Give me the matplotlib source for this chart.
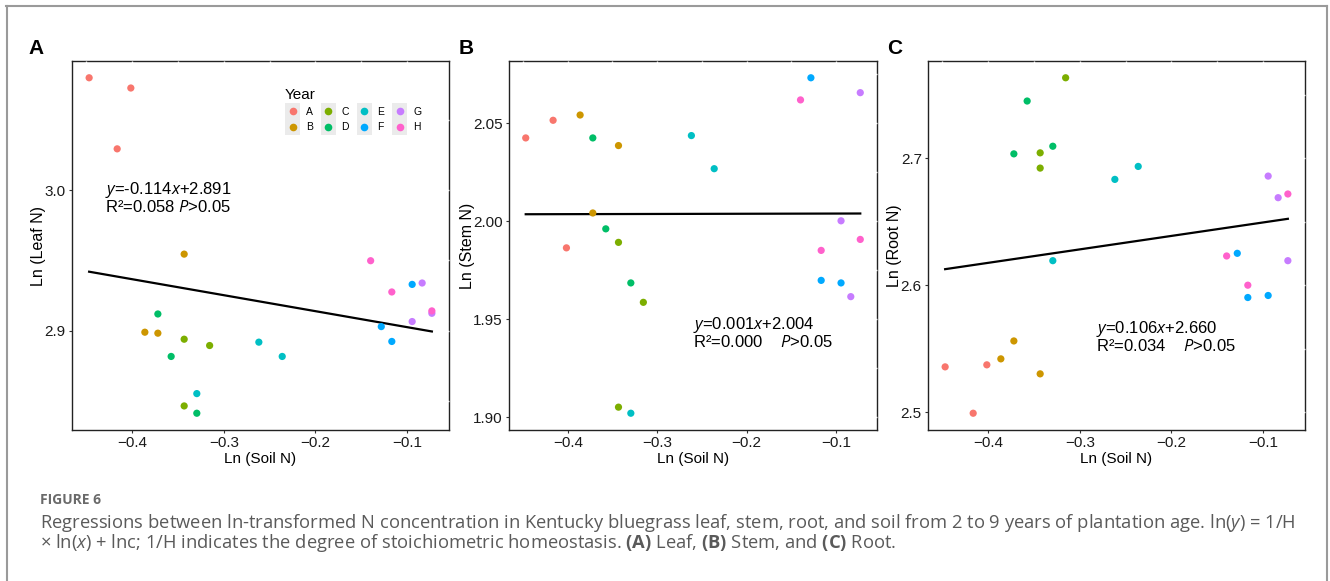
import numpy as np
import matplotlib
matplotlib.use("Agg")
import matplotlib.pyplot as plt
from matplotlib.lines import Line2D
from matplotlib.patches import Rectangle
from matplotlib.legend_handler import HandlerBase
from matplotlib.ticker import AutoMinorLocator

# ---------------- data ----------------
years = ["A", "B", "C", "D", "E", "F", "G", "H"]
colors = ["#F8766D", "#CD9600", "#7CAE00", "#00BE67",
          "#00BFC4", "#00A9FF", "#C77CFF", "#FF61CC"]

point_year = ["A"] * 3 + ["B"] * 3 + ["C"] * 3 + ["D"] * 3 + \
             ["E"] * 3 + ["F"] * 3 + ["G"] * 3 + ["H"] * 3

soil_n = [-0.447, -0.4164, -0.4015,
          -0.3862, -0.3433, -0.372,
          -0.3433, -0.3433, -0.3155,
          -0.372, -0.3575, -0.3295,
          -0.2618, -0.2363, -0.3295,
          -0.1282, -0.1167, -0.0945,
          -0.073, -0.0945, -0.0836,
          -0.1398, -0.1167, -0.073]

leaf_n = [3.0803, 3.0296, 3.073,
          2.8988, 2.9545, 2.8981,
          2.8938, 2.8462, 2.8893,
          2.9118, 2.8815, 2.841,
          2.8917, 2.8815, 2.855,
          2.9028, 2.8922, 2.9329,
          2.9123, 2.9064, 2.9339,
          2.9498, 2.9275, 2.914]

stem_n = [2.0425, 2.0515, 1.9864,
          2.0542, 2.0386, 2.0042,
          1.9892, 1.9051, 1.9586,
          2.0425, 1.9961, 1.9685,
          2.0437, 2.0268, 1.902,
          2.0732, 1.9698, 1.9685,
          2.0656, 2.0002, 1.9615,
          2.0619, 1.9851, 1.9907]

root_n = [2.5357, 2.4992, 2.5373,
          2.542, 2.5302, 2.5561,
          2.7042, 2.6922, 2.7633,
          2.7034, 2.745, 2.7094,
          2.6833, 2.6935, 2.6193,
          2.6251, 2.5903, 2.5919,
          2.6193, 2.6859, 2.6689,
          2.623, 2.600, 2.6718]

slopes = [-0.114, 0.001, 0.106]
intercepts = [2.891, 2.004, 2.660]
eq_lines = ["$\\mathit{y}$=-0.114$\\mathit{x}$+2.891",
            "$\\mathit{y}$=0.001$\\mathit{x}$+2.004",
            "$\\mathit{y}$=0.106$\\mathit{x}$+2.660"]
r2_lines = ["R\u00b2=0.058 $\\mathit{P}$>0.05",
            "R\u00b2=0.000    $\\mathit{P}$>0.05",
            "R\u00b2=0.034    $\\mathit{P}$>0.05"]
eq_pos = [(-0.430, 3.000), (-0.2595, 1.947), (-0.2827, 2.5658)]
eq_gap = [0.012, 0.0085, 0.0134]

panel_letters = ["A", "B", "C"]
y_labels = ["Ln (Leaf N)", "Ln (Stem N)", "Ln (Root N)"]
x_label = "Ln (Soil N)"
x_ticks = [-0.4, -0.3, -0.2, -0.1]
y_ticks = [[2.9, 3.0], [1.90, 1.95, 2.00, 2.05], [2.5, 2.6, 2.7]]
y_fmt = ["{:.1f}", "{:.2f}", "{:.1f}"]

caption_title = "FIGURE 6"
caption_1 = ("Regressions between ln-transformed N concentration in Kentucky bluegrass leaf, stem, root, "
             "and soil from 2 to 9 years of plantation age. ln($\\mathit{y}$) = 1/H")
caption_2 = ("\u00d7 ln($\\mathit{x}$) + lnc; 1/H indicates the degree of stoichiometric homeostasis. "
             "$\\mathbf{(A)}$ Leaf, $\\mathbf{(B)}$ Stem, and $\\mathbf{(C)}$ Root.")

# ---------------- style ----------------
plt.rcParams["font.family"] = ["Liberation Sans", "DejaVu Sans"]
plt.rcParams["mathtext.fontset"] = "custom"
plt.rcParams["mathtext.rm"] = "Liberation Sans"
plt.rcParams["mathtext.it"] = "Liberation Sans:italic"
plt.rcParams["mathtext.bf"] = "Liberation Sans:bold"

W, H = 1330, 581
fig = plt.figure(figsize=(W / 100, H / 100), dpi=100)

boxes = [(72, 61, 449, 430), (509, 61, 877, 430), (928, 61, 1305, 430)]
ys_all = [leaf_n, stem_n, root_n]
letter_x = [28, 459, 887]

soil = np.array(soil_n)
pyear = np.array(point_year)


class KeyHandler(HandlerBase):
    def create_artists(self, legend, orig_handle, xdescent, ydescent,
                       width, height, fontsize, trans):
        rect = Rectangle((-xdescent, -ydescent - 2), width, height + 4,
                         facecolor="#EBEBEB", edgecolor="none", transform=trans)
        dot = Line2D([width / 2 - xdescent], [height / 2 - ydescent],
                     marker="o", markersize=5.5, linestyle="none",
                     color=orig_handle.get_color(), markeredgewidth=0,
                     transform=trans)
        return [rect, dot]


axes = []
for i in range(3):
    l, t, r, b = boxes[i]
    ax = fig.add_axes([l / W, 1 - b / H, (r - l) / W, (b - t) / H])
    axes.append(ax)
    yv = np.array(ys_all[i])
    for yr, col in zip(years, colors):
        m = pyear == yr
        ax.scatter(soil[m], yv[m], s=27, color=col, edgecolors="none",
                   zorder=3, label=yr)
    xx = np.array([soil.min(), soil.max()])
    ax.plot(xx, slopes[i] * xx + intercepts[i], color="black", lw=1.6, zorder=2)

    ex, ey = eq_pos[i]
    ax.text(ex, ey, eq_lines[i], fontsize=12, va="center", ha="left")
    ax.text(ex, ey - eq_gap[i], r2_lines[i], fontsize=12, va="center", ha="left")

    ax.set_xticks(x_ticks)
    ax.set_yticks(y_ticks[i])
    ax.set_yticklabels([y_fmt[i].format(v) for v in y_ticks[i]])
    ax.tick_params(axis="both", labelsize=11, length=2.5, width=0.8,
                   color="#333333", labelcolor="#1a1a1a", pad=2)
    for sp in ax.spines.values():
        sp.set_color("#222222")
        sp.set_linewidth(1.0)
    ax.set_xlabel(x_label, fontsize=11, labelpad=1)
    ax.set_ylabel(y_labels[i], fontsize=11.5, labelpad=-1)
    fig.text(letter_x[i] / W, 1 - 49 / H, panel_letters[i], fontsize=15,
             fontweight="bold", ha="left", va="center")

    # faint white grid notches on the top and right border (as in the reference)
    sx = ax.secondary_xaxis("top")
    sx.set_xticks(x_ticks)
    sx.xaxis.set_minor_locator(AutoMinorLocator(2))
    sx.tick_params(which="both", color="white", length=2.5, width=1.0,
                   direction="in", labeltop=False)
    sx.spines["top"].set_visible(False)
    sx.set_zorder(4)
    sy = ax.secondary_yaxis("right")
    sy.set_yticks(y_ticks[i])
    sy.yaxis.set_minor_locator(AutoMinorLocator(2))
    sy.tick_params(which="both", color="white", length=2.5, width=1.0,
                   direction="in", labelright=False)
    sy.spines["right"].set_visible(False)
    sy.set_zorder(4)

# legend in panel A
ax0 = axes[0]
handles = [Line2D([], [], color=c, marker="o", linestyle="none") for c in colors]
leg = ax0.legend(handles, years, title="Year", ncol=4, loc="upper left",
                 bbox_to_anchor=(0.565, 0.927), frameon=False, fontsize=7.5,
                 title_fontsize=11, handlelength=1.45, handleheight=1.2,
                 handletextpad=0.55, columnspacing=0.75, labelspacing=0.45,
                 borderpad=0, borderaxespad=0,
                 handler_map={Line2D: KeyHandler()})
leg._legend_box.align = "left"
leg._legend_box.sep = 3
leg.set_zorder(6)

# outer frame
fc = "#9a9a9a"
fig.add_artist(Line2D([6 / W, 1327 / W], [1 - 5.5 / H, 1 - 5.5 / H], color=fc, lw=1.5))
fig.add_artist(Line2D([6.5 / W, 6.5 / W], [0, 1 - 5.5 / H], color=fc, lw=1.5))
fig.add_artist(Line2D([1327 / W, 1327 / W], [0, 1 - 5.5 / H], color=fc, lw=1.5))

# caption
cap_font = ["Open Sans", "DejaVu Sans"]
fig.text(40 / W, 1 - 500 / H, caption_title, fontsize=10, color="#6a6a6a",
         family=cap_font, fontweight="bold", ha="left", va="center")
plt.rcParams["mathtext.rm"] = "Open Sans"
plt.rcParams["mathtext.it"] = "Open Sans:italic"
plt.rcParams["mathtext.bf"] = "Open Sans:bold"
fig.text(40 / W, 1 - 533 / H, caption_1 + "\n" + caption_2, fontsize=13.2,
         color="#5a5a5a", family=cap_font, ha="left", va="center",
         linespacing=0.85)

fig.savefig("out.png", dpi=100)
